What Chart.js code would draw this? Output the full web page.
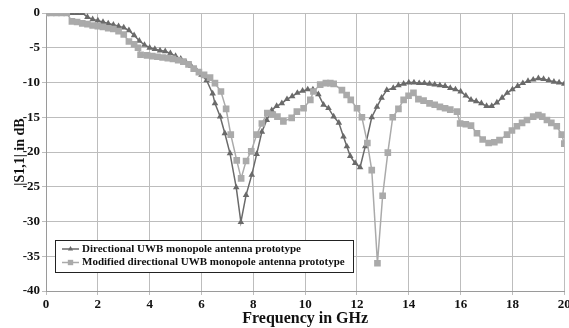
<!DOCTYPE html>
<html lang="en">
<head>
  <meta charset="UTF-8">
  <title>S11 vs Frequency</title>
  <script src="https://cdn.jsdelivr.net/npm/chart.js"></script>
  <style>
    body {
      margin: 0;
      background-color: #fff;
    }
    #wrap {
      width: 569px;
      height: 328px;
    }
  </style>
</head>
<body>
<div id="wrap">
  <canvas id="s11Chart" width="569" height="328"></canvas>
</div>

<script>
    // Directional UWB monopole antenna prototype
    const freqA = [0, 0.2, 0.4, 0.6, 0.8, 1.0, 1.2, 1.4, 1.6, 1.8, 2.0, 2.2, 2.4, 2.6, 2.8, 3.0, 3.2, 3.4, 3.6, 3.8,
        4.0, 4.2, 4.4, 4.6, 4.8, 5.0, 5.2, 5.4, 5.6, 5.8, 6.0, 6.2, 6.43, 6.52, 6.72, 6.9, 7.1, 7.34, 7.52, 7.72,
        7.94, 8.13, 8.33, 8.52, 8.71, 8.9, 9.1, 9.3, 9.5, 9.7, 9.9, 10.1, 10.3, 10.51, 10.71, 10.9, 11.1, 11.3, 11.48, 11.61,
        11.74, 11.93, 12.12, 12.32, 12.57, 12.77, 12.95, 13.15, 13.4, 13.6, 13.8, 14.0, 14.2, 14.4, 14.6, 14.8, 15.0, 15.2, 15.4, 15.6,
        15.8, 16.0, 16.2, 16.4, 16.6, 16.8, 17.0, 17.2, 17.4, 17.6, 17.8, 18.0, 18.2, 18.4, 18.6, 18.8, 19.0, 19.2, 19.4, 19.6,
        19.8, 20.0];
    const s11A = [0, 0, 0, 0, 0, 0, 0, 0, -0.6, -0.9, -1.1, -1.3, -1.5, -1.7, -1.9, -2.1, -2.5, -3.2, -4.0, -4.6,
        -5.0, -5.2, -5.4, -5.5, -5.8, -6.2, -6.6, -7.1, -7.6, -8.2, -8.9, -9.7, -11.6, -13.0, -14.9, -17.3, -20.2, -25.1, -30.1, -26.2,
        -23.3, -20.3, -17.1, -15.4, -14.0, -13.4, -13.0, -12.4, -12.0, -11.5, -11.2, -11.0, -11.0, -11.7, -13.2, -13.7, -14.9, -15.8, -17.8, -19.2,
        -20.6, -21.6, -22.2, -19.2, -15.0, -13.5, -12.2, -11.1, -10.8, -10.4, -10.2, -10.0, -10.0, -10.1, -10.1, -10.2, -10.3, -10.4, -10.5, -10.8,
        -11.0, -11.3, -11.9, -12.5, -12.7, -13.0, -13.4, -13.4, -12.9, -12.2, -11.5, -11.0, -10.5, -10.1, -9.8, -9.6, -9.4, -9.5, -9.7, -9.9,
        -10.0, -10.2];

    // Modified directional UWB monopole antenna prototype
    const freqB = [0, 0.2, 0.4, 0.6, 0.8, 1.0, 1.2, 1.4, 1.6, 1.8, 2.0, 2.2, 2.4, 2.6, 2.8, 3.0, 3.2, 3.4, 3.55, 3.65,
        3.9, 4.1, 4.3, 4.5, 4.7, 4.9, 5.1, 5.3, 5.5, 5.7, 5.9, 6.1, 6.33, 6.52, 6.75, 6.95, 7.13, 7.36, 7.53, 7.72,
        7.92, 8.13, 8.33, 8.54, 8.75, 8.93, 9.16, 9.48, 9.68, 9.94, 10.2, 10.32, 10.58, 10.8, 10.97, 11.1, 11.42, 11.6, 11.76, 12.0,
        12.19, 12.4, 12.57, 12.79, 12.99, 13.19, 13.38, 13.6, 13.8, 13.99, 14.18, 14.37, 14.57, 14.8, 15.0, 15.2, 15.4, 15.6, 15.86, 15.98,
        16.2, 16.4, 16.63, 16.85, 17.08, 17.3, 17.5, 17.79, 17.98, 18.17, 18.37, 18.56, 18.8, 19.0, 19.15, 19.33, 19.5, 19.71, 19.9, 20.0];
    const s11B = [0, 0, 0, 0, 0, -1.2, -1.3, -1.5, -1.6, -1.8, -1.9, -2.0, -2.2, -2.3, -2.6, -3.1, -4.1, -4.5, -5.0, -6.0,
        -6.1, -6.2, -6.3, -6.4, -6.5, -6.6, -6.8, -7.0, -7.4, -8.0, -8.5, -8.9, -9.3, -10.1, -11.3, -13.8, -17.5, -21.2, -23.8, -21.3,
        -19.9, -17.5, -15.9, -14.4, -14.6, -14.9, -15.6, -15.1, -14.2, -13.7, -12.5, -11.3, -10.3, -10.1, -10.1, -10.2, -11.1, -11.8, -12.5, -13.7,
        -15.0, -18.7, -22.6, -36.0, -26.3, -20.1, -15.0, -13.8, -12.5, -11.9, -11.5, -12.4, -12.6, -13.0, -13.2, -13.5, -13.7, -13.9, -14.2, -15.9,
        -16.0, -16.2, -17.3, -18.2, -18.7, -18.6, -18.3, -17.5, -16.9, -16.3, -15.8, -15.4, -14.9, -14.7, -14.9, -15.4, -15.8, -16.3, -17.5, -18.8];

    const seriesNames = [
        'Directional UWB monopole antenna prototype',
        'Modified directional UWB monopole antenna prototype'
    ];

    const darkGray = '#6a6a6a';
    const lightGray = '#aaaaaa';
    const serif = '"Liberation Serif", "Times New Roman", serif';

    function toPoints(xs, ys) {
        return xs.map((x, i) => ({ x: x, y: ys[i] }));
    }

    // legend box drawn inside the plot area, lower left
    const boxLegend = {
        id: 'boxLegend',
        afterDraw(chart) {
            const ctx = chart.ctx;
            const area = chart.chartArea;
            const left = area.left + 9;
            const top = area.bottom - 51;
            const w = 298, h = 32;
            ctx.save();
            ctx.fillStyle = '#fff';
            ctx.fillRect(left, top, w, h);
            ctx.strokeStyle = '#222';
            ctx.lineWidth = 1;
            ctx.strokeRect(left + 0.5, top + 0.5, w, h);
            ctx.font = 'bold 11px ' + serif;
            ctx.textBaseline = 'middle';
            chart.data.datasets.forEach((ds, i) => {
                const cy = top + 9 + i * 13.5;
                ctx.strokeStyle = ds.borderColor;
                ctx.lineWidth = 1.5;
                ctx.beginPath();
                ctx.moveTo(left + 7, cy);
                ctx.lineTo(left + 24, cy);
                ctx.stroke();
                ctx.fillStyle = ds.pointBackgroundColor;
                ctx.strokeStyle = ds.pointBackgroundColor;
                Chart.helpers.drawPoint(ctx, {
                    pointStyle: ds.pointStyle,
                    radius: i === 0 ? 3 : 3.8,
                    rotation: 0,
                    borderWidth: 0
                }, left + 15.5, cy);
                ctx.fillStyle = '#111';
                ctx.fillText(ds.label, left + 27, cy);
            });
            ctx.restore();
        }
    };

    const ctx = document.getElementById('s11Chart').getContext('2d');
    new Chart(ctx, {
        type: 'line',
        data: {
            datasets: [{
                label: seriesNames[0],
                data: toPoints(freqA, s11A),
                borderColor: darkGray,
                backgroundColor: darkGray,
                pointBackgroundColor: darkGray,
                pointBorderColor: darkGray,
                pointStyle: 'triangle',
                pointRadius: 3.8,
                pointBorderWidth: 0,
                borderWidth: 1.5,
                tension: 0,
                order: 1
            }, {
                label: seriesNames[1],
                data: toPoints(freqB, s11B),
                borderColor: lightGray,
                backgroundColor: lightGray,
                pointBackgroundColor: lightGray,
                pointBorderColor: lightGray,
                pointStyle: 'rect',
                pointRadius: 4.7,
                pointBorderWidth: 0,
                borderWidth: 1.5,
                tension: 0,
                order: 0
            }]
        },
        options: {
            responsive: false,
            animation: false,
            layout: { padding: { top: 13, right: 0, bottom: 0, left: 0 } },
            plugins: {
                legend: { display: false },
                tooltip: { enabled: false }
            },
            scales: {
                x: {
                    type: 'linear',
                    min: 0,
                    max: 20,
                    ticks: {
                        stepSize: 2,
                        color: '#111',
                        padding: 2,
                        maxRotation: 0,
                        font: { family: serif, size: 13, weight: 'bold' }
                    },
                    grid: { color: '#bdbdbd', lineWidth: 1, tickLength: 4 },
                    border: { color: '#9a9a9a' },
                    title: {
                        display: true,
                        text: 'Frequency in GHz',
                        color: '#111',
                        padding: { top: 0, bottom: 0 },
                        font: { family: serif, size: 16, weight: 'bold' }
                    },
                    afterFit(scale) {
                        scale.height = 37;
                        scale.paddingLeft = 0;
                        scale.paddingRight = 0;
                    }
                },
                y: {
                    min: -40,
                    max: 0,
                    ticks: {
                        stepSize: 5,
                        color: '#111',
                        padding: 2,
                        font: { family: serif, size: 13, weight: 'bold' }
                    },
                    grid: { color: '#bdbdbd', lineWidth: 1, tickLength: 4 },
                    border: { color: '#9a9a9a' },
                    title: {
                        display: true,
                        text: '|S1,1| in dB',
                        color: '#111',
                        padding: { top: 12, bottom: 0 },
                        font: { family: serif, size: 14, weight: 'bold' }
                    },
                    afterFit(scale) {
                        scale.width = 46;
                        scale.paddingTop = 0;
                        scale.paddingBottom = 0;
                    }
                }
            }
        },
        plugins: [boxLegend]
    });
</script>
</body>
</html>
